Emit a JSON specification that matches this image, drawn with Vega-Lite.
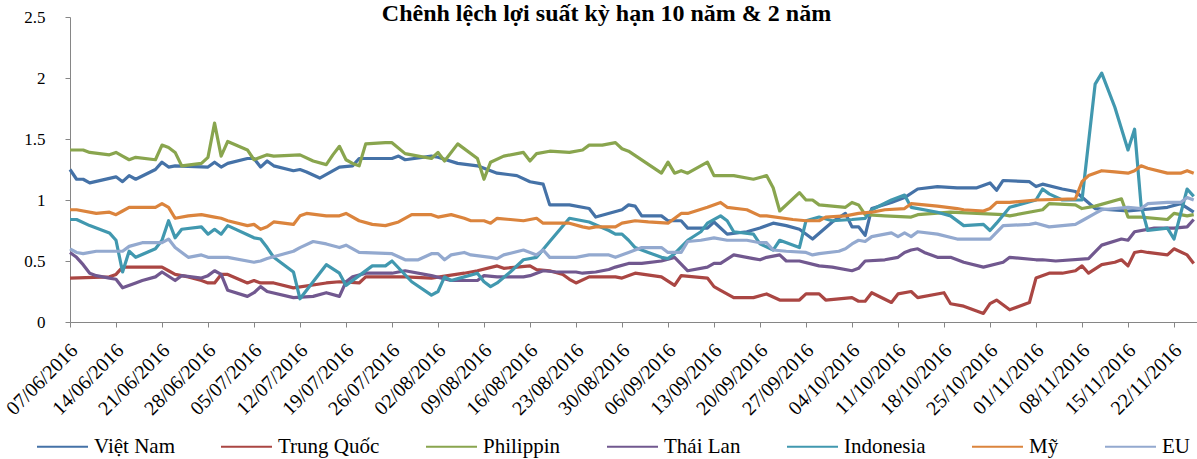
{
"$schema":"https://vega.github.io/schema/vega-lite/v6.json",
"width":1127,"height":305,
"autosize":{"type":"none"},
"padding":{"left":70,"top":17,"right":0,"bottom":137},
"background":"white",
"config":{"view":{"stroke":null}},
"title":{"text":"Chênh lệch lợi suất kỳ hạn 10 năm & 2 năm","font":"Liberation Serif","fontSize":24,"fontWeight":"bold","color":"black","anchor":"middle","frame":"group","baseline":"alphabetic","offset":-37,"dx":-27},
"data":{"values":[
{"date":"2016-06-07","country":"Việt Nam","value":1.25},
{"date":"2016-06-08","country":"Việt Nam","value":1.17},
{"date":"2016-06-09","country":"Việt Nam","value":1.17},
{"date":"2016-06-10","country":"Việt Nam","value":1.14},
{"date":"2016-06-14","country":"Việt Nam","value":1.19},
{"date":"2016-06-15","country":"Việt Nam","value":1.15},
{"date":"2016-06-16","country":"Việt Nam","value":1.20},
{"date":"2016-06-17","country":"Việt Nam","value":1.17},
{"date":"2016-06-20","country":"Việt Nam","value":1.25},
{"date":"2016-06-21","country":"Việt Nam","value":1.31},
{"date":"2016-06-22","country":"Việt Nam","value":1.27},
{"date":"2016-06-23","country":"Việt Nam","value":1.28},
{"date":"2016-06-28","country":"Việt Nam","value":1.27},
{"date":"2016-06-29","country":"Việt Nam","value":1.31},
{"date":"2016-06-30","country":"Việt Nam","value":1.27},
{"date":"2016-07-01","country":"Việt Nam","value":1.30},
{"date":"2016-07-04","country":"Việt Nam","value":1.34},
{"date":"2016-07-05","country":"Việt Nam","value":1.34},
{"date":"2016-07-06","country":"Việt Nam","value":1.27},
{"date":"2016-07-07","country":"Việt Nam","value":1.32},
{"date":"2016-07-08","country":"Việt Nam","value":1.28},
{"date":"2016-07-11","country":"Việt Nam","value":1.24},
{"date":"2016-07-12","country":"Việt Nam","value":1.25},
{"date":"2016-07-13","country":"Việt Nam","value":1.23},
{"date":"2016-07-15","country":"Việt Nam","value":1.18},
{"date":"2016-07-18","country":"Việt Nam","value":1.27},
{"date":"2016-07-20","country":"Việt Nam","value":1.28},
{"date":"2016-07-21","country":"Việt Nam","value":1.34},
{"date":"2016-07-26","country":"Việt Nam","value":1.34},
{"date":"2016-07-27","country":"Việt Nam","value":1.36},
{"date":"2016-07-28","country":"Việt Nam","value":1.33},
{"date":"2016-08-01","country":"Việt Nam","value":1.36},
{"date":"2016-08-02","country":"Việt Nam","value":1.35},
{"date":"2016-08-05","country":"Việt Nam","value":1.30},
{"date":"2016-08-08","country":"Việt Nam","value":1.28},
{"date":"2016-08-11","country":"Việt Nam","value":1.22},
{"date":"2016-08-14","country":"Việt Nam","value":1.20},
{"date":"2016-08-16","country":"Việt Nam","value":1.15},
{"date":"2016-08-18","country":"Việt Nam","value":1.13},
{"date":"2016-08-19","country":"Việt Nam","value":0.96},
{"date":"2016-08-22","country":"Việt Nam","value":0.96},
{"date":"2016-08-25","country":"Việt Nam","value":0.93},
{"date":"2016-08-26","country":"Việt Nam","value":0.86},
{"date":"2016-08-30","country":"Việt Nam","value":0.92},
{"date":"2016-08-31","country":"Việt Nam","value":0.96},
{"date":"2016-09-01","country":"Việt Nam","value":0.95},
{"date":"2016-09-02","country":"Việt Nam","value":0.87},
{"date":"2016-09-05","country":"Việt Nam","value":0.87},
{"date":"2016-09-06","country":"Việt Nam","value":0.83},
{"date":"2016-09-08","country":"Việt Nam","value":0.83},
{"date":"2016-09-09","country":"Việt Nam","value":0.77},
{"date":"2016-09-12","country":"Việt Nam","value":0.77},
{"date":"2016-09-13","country":"Việt Nam","value":0.82},
{"date":"2016-09-15","country":"Việt Nam","value":0.72},
{"date":"2016-09-18","country":"Việt Nam","value":0.74},
{"date":"2016-09-20","country":"Việt Nam","value":0.77},
{"date":"2016-09-22","country":"Việt Nam","value":0.81},
{"date":"2016-09-24","country":"Việt Nam","value":0.79},
{"date":"2016-09-26","country":"Việt Nam","value":0.76},
{"date":"2016-09-28","country":"Việt Nam","value":0.68},
{"date":"2016-10-01","country":"Việt Nam","value":0.82},
{"date":"2016-10-03","country":"Việt Nam","value":0.89},
{"date":"2016-10-04","country":"Việt Nam","value":0.78},
{"date":"2016-10-05","country":"Việt Nam","value":0.78},
{"date":"2016-10-06","country":"Việt Nam","value":0.71},
{"date":"2016-10-07","country":"Việt Nam","value":0.93},
{"date":"2016-10-10","country":"Việt Nam","value":0.98},
{"date":"2016-10-12","country":"Việt Nam","value":1.02},
{"date":"2016-10-14","country":"Việt Nam","value":1.09},
{"date":"2016-10-17","country":"Việt Nam","value":1.11},
{"date":"2016-10-20","country":"Việt Nam","value":1.10},
{"date":"2016-10-23","country":"Việt Nam","value":1.10},
{"date":"2016-10-25","country":"Việt Nam","value":1.14},
{"date":"2016-10-26","country":"Việt Nam","value":1.08},
{"date":"2016-10-27","country":"Việt Nam","value":1.16},
{"date":"2016-10-31","country":"Việt Nam","value":1.15},
{"date":"2016-11-01","country":"Việt Nam","value":1.11},
{"date":"2016-11-02","country":"Việt Nam","value":1.13},
{"date":"2016-11-05","country":"Việt Nam","value":1.09},
{"date":"2016-11-07","country":"Việt Nam","value":1.07},
{"date":"2016-11-10","country":"Việt Nam","value":0.93},
{"date":"2016-11-15","country":"Việt Nam","value":0.91},
{"date":"2016-11-21","country":"Việt Nam","value":0.94},
{"date":"2016-11-23","country":"Việt Nam","value":0.97},
{"date":"2016-11-25","country":"Việt Nam","value":0.90},
{"date":"2016-06-07","country":"Trung Quốc","value":0.36},
{"date":"2016-06-13","country":"Trung Quốc","value":0.37},
{"date":"2016-06-14","country":"Trung Quốc","value":0.39},
{"date":"2016-06-15","country":"Trung Quốc","value":0.45},
{"date":"2016-06-21","country":"Trung Quốc","value":0.45},
{"date":"2016-06-22","country":"Trung Quốc","value":0.42},
{"date":"2016-06-23","country":"Trung Quốc","value":0.39},
{"date":"2016-06-25","country":"Trung Quốc","value":0.37},
{"date":"2016-06-27","country":"Trung Quốc","value":0.34},
{"date":"2016-06-28","country":"Trung Quốc","value":0.32},
{"date":"2016-06-29","country":"Trung Quốc","value":0.32},
{"date":"2016-06-30","country":"Trung Quốc","value":0.39},
{"date":"2016-07-01","country":"Trung Quốc","value":0.39},
{"date":"2016-07-04","country":"Trung Quốc","value":0.32},
{"date":"2016-07-05","country":"Trung Quốc","value":0.34},
{"date":"2016-07-06","country":"Trung Quốc","value":0.32},
{"date":"2016-07-08","country":"Trung Quốc","value":0.32},
{"date":"2016-07-11","country":"Trung Quốc","value":0.28},
{"date":"2016-07-16","country":"Trung Quốc","value":0.32},
{"date":"2016-07-18","country":"Trung Quốc","value":0.33},
{"date":"2016-07-21","country":"Trung Quốc","value":0.32},
{"date":"2016-07-22","country":"Trung Quốc","value":0.37},
{"date":"2016-07-28","country":"Trung Quốc","value":0.37},
{"date":"2016-08-01","country":"Trung Quốc","value":0.36},
{"date":"2016-08-06","country":"Trung Quốc","value":0.40},
{"date":"2016-08-08","country":"Trung Quốc","value":0.42},
{"date":"2016-08-11","country":"Trung Quốc","value":0.46},
{"date":"2016-08-12","country":"Trung Quốc","value":0.44},
{"date":"2016-08-14","country":"Trung Quốc","value":0.45},
{"date":"2016-08-16","country":"Trung Quốc","value":0.46},
{"date":"2016-08-17","country":"Trung Quốc","value":0.43},
{"date":"2016-08-19","country":"Trung Quốc","value":0.42},
{"date":"2016-08-21","country":"Trung Quốc","value":0.39},
{"date":"2016-08-22","country":"Trung Quốc","value":0.35},
{"date":"2016-08-23","country":"Trung Quốc","value":0.32},
{"date":"2016-08-25","country":"Trung Quốc","value":0.37},
{"date":"2016-08-29","country":"Trung Quốc","value":0.37},
{"date":"2016-08-30","country":"Trung Quốc","value":0.36},
{"date":"2016-09-01","country":"Trung Quốc","value":0.40},
{"date":"2016-09-05","country":"Trung Quốc","value":0.37},
{"date":"2016-09-07","country":"Trung Quốc","value":0.30},
{"date":"2016-09-08","country":"Trung Quốc","value":0.38},
{"date":"2016-09-12","country":"Trung Quốc","value":0.36},
{"date":"2016-09-13","country":"Trung Quốc","value":0.29},
{"date":"2016-09-14","country":"Trung Quốc","value":0.26},
{"date":"2016-09-16","country":"Trung Quốc","value":0.20},
{"date":"2016-09-19","country":"Trung Quốc","value":0.20},
{"date":"2016-09-21","country":"Trung Quốc","value":0.23},
{"date":"2016-09-23","country":"Trung Quốc","value":0.18},
{"date":"2016-09-26","country":"Trung Quốc","value":0.18},
{"date":"2016-09-27","country":"Trung Quốc","value":0.23},
{"date":"2016-09-29","country":"Trung Quốc","value":0.23},
{"date":"2016-09-30","country":"Trung Quốc","value":0.18},
{"date":"2016-10-04","country":"Trung Quốc","value":0.20},
{"date":"2016-10-05","country":"Trung Quốc","value":0.17},
{"date":"2016-10-06","country":"Trung Quốc","value":0.17},
{"date":"2016-10-07","country":"Trung Quốc","value":0.24},
{"date":"2016-10-10","country":"Trung Quốc","value":0.16},
{"date":"2016-10-11","country":"Trung Quốc","value":0.23},
{"date":"2016-10-13","country":"Trung Quốc","value":0.25},
{"date":"2016-10-14","country":"Trung Quốc","value":0.20},
{"date":"2016-10-18","country":"Trung Quốc","value":0.24},
{"date":"2016-10-19","country":"Trung Quốc","value":0.15},
{"date":"2016-10-21","country":"Trung Quốc","value":0.13},
{"date":"2016-10-24","country":"Trung Quốc","value":0.07},
{"date":"2016-10-25","country":"Trung Quốc","value":0.15},
{"date":"2016-10-26","country":"Trung Quốc","value":0.18},
{"date":"2016-10-28","country":"Trung Quốc","value":0.10},
{"date":"2016-10-31","country":"Trung Quốc","value":0.16},
{"date":"2016-11-01","country":"Trung Quốc","value":0.36},
{"date":"2016-11-03","country":"Trung Quốc","value":0.40},
{"date":"2016-11-05","country":"Trung Quốc","value":0.40},
{"date":"2016-11-07","country":"Trung Quốc","value":0.42},
{"date":"2016-11-08","country":"Trung Quốc","value":0.46},
{"date":"2016-11-09","country":"Trung Quốc","value":0.40},
{"date":"2016-11-11","country":"Trung Quốc","value":0.47},
{"date":"2016-11-13","country":"Trung Quốc","value":0.49},
{"date":"2016-11-14","country":"Trung Quốc","value":0.51},
{"date":"2016-11-15","country":"Trung Quốc","value":0.46},
{"date":"2016-11-16","country":"Trung Quốc","value":0.57},
{"date":"2016-11-17","country":"Trung Quốc","value":0.58},
{"date":"2016-11-18","country":"Trung Quốc","value":0.57},
{"date":"2016-11-21","country":"Trung Quốc","value":0.55},
{"date":"2016-11-22","country":"Trung Quốc","value":0.60},
{"date":"2016-11-24","country":"Trung Quốc","value":0.55},
{"date":"2016-11-25","country":"Trung Quốc","value":0.48},
{"date":"2016-06-07","country":"Philippin","value":1.41},
{"date":"2016-06-09","country":"Philippin","value":1.41},
{"date":"2016-06-10","country":"Philippin","value":1.39},
{"date":"2016-06-13","country":"Philippin","value":1.37},
{"date":"2016-06-14","country":"Philippin","value":1.39},
{"date":"2016-06-15","country":"Philippin","value":1.36},
{"date":"2016-06-16","country":"Philippin","value":1.33},
{"date":"2016-06-17","country":"Philippin","value":1.35},
{"date":"2016-06-20","country":"Philippin","value":1.33},
{"date":"2016-06-21","country":"Philippin","value":1.45},
{"date":"2016-06-22","country":"Philippin","value":1.43},
{"date":"2016-06-23","country":"Philippin","value":1.39},
{"date":"2016-06-24","country":"Philippin","value":1.28},
{"date":"2016-06-27","country":"Philippin","value":1.30},
{"date":"2016-06-28","country":"Philippin","value":1.35},
{"date":"2016-06-29","country":"Philippin","value":1.63},
{"date":"2016-06-30","country":"Philippin","value":1.36},
{"date":"2016-07-01","country":"Philippin","value":1.48},
{"date":"2016-07-04","country":"Philippin","value":1.41},
{"date":"2016-07-05","country":"Philippin","value":1.33},
{"date":"2016-07-07","country":"Philippin","value":1.37},
{"date":"2016-07-08","country":"Philippin","value":1.36},
{"date":"2016-07-12","country":"Philippin","value":1.37},
{"date":"2016-07-14","country":"Philippin","value":1.32},
{"date":"2016-07-16","country":"Philippin","value":1.29},
{"date":"2016-07-17","country":"Philippin","value":1.37},
{"date":"2016-07-18","country":"Philippin","value":1.44},
{"date":"2016-07-19","country":"Philippin","value":1.33},
{"date":"2016-07-20","country":"Philippin","value":1.30},
{"date":"2016-07-21","country":"Philippin","value":1.28},
{"date":"2016-07-22","country":"Philippin","value":1.46},
{"date":"2016-07-25","country":"Philippin","value":1.47},
{"date":"2016-07-26","country":"Philippin","value":1.47},
{"date":"2016-07-28","country":"Philippin","value":1.38},
{"date":"2016-07-29","country":"Philippin","value":1.37},
{"date":"2016-08-01","country":"Philippin","value":1.34},
{"date":"2016-08-02","country":"Philippin","value":1.39},
{"date":"2016-08-03","country":"Philippin","value":1.32},
{"date":"2016-08-05","country":"Philippin","value":1.46},
{"date":"2016-08-08","country":"Philippin","value":1.34},
{"date":"2016-08-09","country":"Philippin","value":1.17},
{"date":"2016-08-10","country":"Philippin","value":1.31},
{"date":"2016-08-12","country":"Philippin","value":1.36},
{"date":"2016-08-15","country":"Philippin","value":1.39},
{"date":"2016-08-16","country":"Philippin","value":1.32},
{"date":"2016-08-17","country":"Philippin","value":1.38},
{"date":"2016-08-19","country":"Philippin","value":1.40},
{"date":"2016-08-22","country":"Philippin","value":1.39},
{"date":"2016-08-24","country":"Philippin","value":1.41},
{"date":"2016-08-25","country":"Philippin","value":1.45},
{"date":"2016-08-27","country":"Philippin","value":1.45},
{"date":"2016-08-29","country":"Philippin","value":1.47},
{"date":"2016-08-30","country":"Philippin","value":1.42},
{"date":"2016-08-31","country":"Philippin","value":1.40},
{"date":"2016-09-05","country":"Philippin","value":1.22},
{"date":"2016-09-06","country":"Philippin","value":1.31},
{"date":"2016-09-07","country":"Philippin","value":1.22},
{"date":"2016-09-08","country":"Philippin","value":1.24},
{"date":"2016-09-09","country":"Philippin","value":1.22},
{"date":"2016-09-12","country":"Philippin","value":1.31},
{"date":"2016-09-13","country":"Philippin","value":1.20},
{"date":"2016-09-16","country":"Philippin","value":1.20},
{"date":"2016-09-19","country":"Philippin","value":1.17},
{"date":"2016-09-21","country":"Philippin","value":1.20},
{"date":"2016-09-22","country":"Philippin","value":1.10},
{"date":"2016-09-23","country":"Philippin","value":0.91},
{"date":"2016-09-26","country":"Philippin","value":1.06},
{"date":"2016-09-27","country":"Philippin","value":1.00},
{"date":"2016-09-28","country":"Philippin","value":1.00},
{"date":"2016-09-29","country":"Philippin","value":0.96},
{"date":"2016-10-03","country":"Philippin","value":0.94},
{"date":"2016-10-04","country":"Philippin","value":0.98},
{"date":"2016-10-05","country":"Philippin","value":0.96},
{"date":"2016-10-06","country":"Philippin","value":0.88},
{"date":"2016-10-09","country":"Philippin","value":0.87},
{"date":"2016-10-13","country":"Philippin","value":0.86},
{"date":"2016-10-14","country":"Philippin","value":0.88},
{"date":"2016-10-19","country":"Philippin","value":0.90},
{"date":"2016-10-27","country":"Philippin","value":0.88},
{"date":"2016-10-28","country":"Philippin","value":0.87},
{"date":"2016-11-02","country":"Philippin","value":0.92},
{"date":"2016-11-03","country":"Philippin","value":0.97},
{"date":"2016-11-07","country":"Philippin","value":0.96},
{"date":"2016-11-08","country":"Philippin","value":0.93},
{"date":"2016-11-10","country":"Philippin","value":0.95},
{"date":"2016-11-14","country":"Philippin","value":1.01},
{"date":"2016-11-15","country":"Philippin","value":0.86},
{"date":"2016-11-17","country":"Philippin","value":0.86},
{"date":"2016-11-21","country":"Philippin","value":0.84},
{"date":"2016-11-22","country":"Philippin","value":0.89},
{"date":"2016-11-24","country":"Philippin","value":0.87},
{"date":"2016-11-25","country":"Philippin","value":0.88},
{"date":"2016-06-07","country":"Thái Lan","value":0.57},
{"date":"2016-06-08","country":"Thái Lan","value":0.53},
{"date":"2016-06-09","country":"Thái Lan","value":0.47},
{"date":"2016-06-10","country":"Thái Lan","value":0.40},
{"date":"2016-06-11","country":"Thái Lan","value":0.38},
{"date":"2016-06-13","country":"Thái Lan","value":0.36},
{"date":"2016-06-14","country":"Thái Lan","value":0.35},
{"date":"2016-06-15","country":"Thái Lan","value":0.28},
{"date":"2016-06-17","country":"Thái Lan","value":0.32},
{"date":"2016-06-18","country":"Thái Lan","value":0.34},
{"date":"2016-06-20","country":"Thái Lan","value":0.37},
{"date":"2016-06-21","country":"Thái Lan","value":0.41},
{"date":"2016-06-23","country":"Thái Lan","value":0.34},
{"date":"2016-06-24","country":"Thái Lan","value":0.38},
{"date":"2016-06-27","country":"Thái Lan","value":0.36},
{"date":"2016-06-28","country":"Thái Lan","value":0.38},
{"date":"2016-06-29","country":"Thái Lan","value":0.42},
{"date":"2016-06-30","country":"Thái Lan","value":0.39},
{"date":"2016-07-01","country":"Thái Lan","value":0.26},
{"date":"2016-07-04","country":"Thái Lan","value":0.21},
{"date":"2016-07-05","country":"Thái Lan","value":0.24},
{"date":"2016-07-06","country":"Thái Lan","value":0.29},
{"date":"2016-07-07","country":"Thái Lan","value":0.25},
{"date":"2016-07-11","country":"Thái Lan","value":0.20},
{"date":"2016-07-14","country":"Thái Lan","value":0.21},
{"date":"2016-07-16","country":"Thái Lan","value":0.24},
{"date":"2016-07-18","country":"Thái Lan","value":0.21},
{"date":"2016-07-19","country":"Thái Lan","value":0.33},
{"date":"2016-07-20","country":"Thái Lan","value":0.37},
{"date":"2016-07-22","country":"Thái Lan","value":0.40},
{"date":"2016-07-26","country":"Thái Lan","value":0.40},
{"date":"2016-07-28","country":"Thái Lan","value":0.42},
{"date":"2016-08-01","country":"Thái Lan","value":0.38},
{"date":"2016-08-04","country":"Thái Lan","value":0.34},
{"date":"2016-08-08","country":"Thái Lan","value":0.34},
{"date":"2016-08-09","country":"Thái Lan","value":0.38},
{"date":"2016-08-11","country":"Thái Lan","value":0.37},
{"date":"2016-08-15","country":"Thái Lan","value":0.37},
{"date":"2016-08-16","country":"Thái Lan","value":0.38},
{"date":"2016-08-18","country":"Thái Lan","value":0.42},
{"date":"2016-08-20","country":"Thái Lan","value":0.41},
{"date":"2016-08-23","country":"Thái Lan","value":0.41},
{"date":"2016-08-24","country":"Thái Lan","value":0.40},
{"date":"2016-08-26","country":"Thái Lan","value":0.41},
{"date":"2016-08-28","country":"Thái Lan","value":0.43},
{"date":"2016-08-29","country":"Thái Lan","value":0.45},
{"date":"2016-08-31","country":"Thái Lan","value":0.48},
{"date":"2016-09-02","country":"Thái Lan","value":0.48},
{"date":"2016-09-05","country":"Thái Lan","value":0.50},
{"date":"2016-09-07","country":"Thái Lan","value":0.53},
{"date":"2016-09-09","country":"Thái Lan","value":0.42},
{"date":"2016-09-12","country":"Thái Lan","value":0.45},
{"date":"2016-09-13","country":"Thái Lan","value":0.48},
{"date":"2016-09-14","country":"Thái Lan","value":0.48},
{"date":"2016-09-16","country":"Thái Lan","value":0.55},
{"date":"2016-09-19","country":"Thái Lan","value":0.52},
{"date":"2016-09-20","country":"Thái Lan","value":0.51},
{"date":"2016-09-21","country":"Thái Lan","value":0.53},
{"date":"2016-09-23","country":"Thái Lan","value":0.55},
{"date":"2016-09-24","country":"Thái Lan","value":0.50},
{"date":"2016-09-26","country":"Thái Lan","value":0.50},
{"date":"2016-09-29","country":"Thái Lan","value":0.46},
{"date":"2016-10-01","country":"Thái Lan","value":0.45},
{"date":"2016-10-04","country":"Thái Lan","value":0.42},
{"date":"2016-10-05","country":"Thái Lan","value":0.44},
{"date":"2016-10-06","country":"Thái Lan","value":0.50},
{"date":"2016-10-09","country":"Thái Lan","value":0.51},
{"date":"2016-10-11","country":"Thái Lan","value":0.53},
{"date":"2016-10-12","country":"Thái Lan","value":0.57},
{"date":"2016-10-13","country":"Thái Lan","value":0.59},
{"date":"2016-10-14","country":"Thái Lan","value":0.60},
{"date":"2016-10-15","country":"Thái Lan","value":0.57},
{"date":"2016-10-17","country":"Thái Lan","value":0.53},
{"date":"2016-10-19","country":"Thái Lan","value":0.53},
{"date":"2016-10-21","country":"Thái Lan","value":0.49},
{"date":"2016-10-24","country":"Thái Lan","value":0.45},
{"date":"2016-10-27","country":"Thái Lan","value":0.49},
{"date":"2016-10-28","country":"Thái Lan","value":0.53},
{"date":"2016-11-01","country":"Thái Lan","value":0.51},
{"date":"2016-11-02","country":"Thái Lan","value":0.51},
{"date":"2016-11-04","country":"Thái Lan","value":0.50},
{"date":"2016-11-09","country":"Thái Lan","value":0.52},
{"date":"2016-11-11","country":"Thái Lan","value":0.63},
{"date":"2016-11-14","country":"Thái Lan","value":0.68},
{"date":"2016-11-15","country":"Thái Lan","value":0.67},
{"date":"2016-11-16","country":"Thái Lan","value":0.74},
{"date":"2016-11-19","country":"Thái Lan","value":0.77},
{"date":"2016-11-22","country":"Thái Lan","value":0.77},
{"date":"2016-11-24","country":"Thái Lan","value":0.78},
{"date":"2016-11-25","country":"Thái Lan","value":0.84},
{"date":"2016-06-07","country":"Indonesia","value":0.84},
{"date":"2016-06-08","country":"Indonesia","value":0.84},
{"date":"2016-06-10","country":"Indonesia","value":0.79},
{"date":"2016-06-13","country":"Indonesia","value":0.73},
{"date":"2016-06-14","country":"Indonesia","value":0.67},
{"date":"2016-06-15","country":"Indonesia","value":0.41},
{"date":"2016-06-16","country":"Indonesia","value":0.58},
{"date":"2016-06-17","country":"Indonesia","value":0.53},
{"date":"2016-06-20","country":"Indonesia","value":0.60},
{"date":"2016-06-21","country":"Indonesia","value":0.67},
{"date":"2016-06-22","country":"Indonesia","value":0.83},
{"date":"2016-06-23","country":"Indonesia","value":0.69},
{"date":"2016-06-24","country":"Indonesia","value":0.76},
{"date":"2016-06-27","country":"Indonesia","value":0.78},
{"date":"2016-06-28","country":"Indonesia","value":0.72},
{"date":"2016-06-29","country":"Indonesia","value":0.76},
{"date":"2016-06-30","country":"Indonesia","value":0.72},
{"date":"2016-07-01","country":"Indonesia","value":0.79},
{"date":"2016-07-05","country":"Indonesia","value":0.69},
{"date":"2016-07-06","country":"Indonesia","value":0.68},
{"date":"2016-07-07","country":"Indonesia","value":0.61},
{"date":"2016-07-08","country":"Indonesia","value":0.53},
{"date":"2016-07-11","country":"Indonesia","value":0.41},
{"date":"2016-07-12","country":"Indonesia","value":0.19},
{"date":"2016-07-16","country":"Indonesia","value":0.47},
{"date":"2016-07-18","country":"Indonesia","value":0.40},
{"date":"2016-07-19","country":"Indonesia","value":0.30},
{"date":"2016-07-23","country":"Indonesia","value":0.46},
{"date":"2016-07-25","country":"Indonesia","value":0.46},
{"date":"2016-07-26","country":"Indonesia","value":0.50},
{"date":"2016-07-29","country":"Indonesia","value":0.33},
{"date":"2016-08-01","country":"Indonesia","value":0.22},
{"date":"2016-08-02","country":"Indonesia","value":0.25},
{"date":"2016-08-03","country":"Indonesia","value":0.37},
{"date":"2016-08-04","country":"Indonesia","value":0.34},
{"date":"2016-08-06","country":"Indonesia","value":0.37},
{"date":"2016-08-08","country":"Indonesia","value":0.40},
{"date":"2016-08-09","country":"Indonesia","value":0.33},
{"date":"2016-08-10","country":"Indonesia","value":0.29},
{"date":"2016-08-11","country":"Indonesia","value":0.32},
{"date":"2016-08-13","country":"Indonesia","value":0.41},
{"date":"2016-08-15","country":"Indonesia","value":0.51},
{"date":"2016-08-17","country":"Indonesia","value":0.53},
{"date":"2016-08-19","country":"Indonesia","value":0.66},
{"date":"2016-08-22","country":"Indonesia","value":0.85},
{"date":"2016-08-25","country":"Indonesia","value":0.82},
{"date":"2016-08-28","country":"Indonesia","value":0.75},
{"date":"2016-08-29","country":"Indonesia","value":0.72},
{"date":"2016-08-30","country":"Indonesia","value":0.72},
{"date":"2016-08-31","country":"Indonesia","value":0.67},
{"date":"2016-09-01","country":"Indonesia","value":0.61},
{"date":"2016-09-03","country":"Indonesia","value":0.57},
{"date":"2016-09-05","country":"Indonesia","value":0.53},
{"date":"2016-09-06","country":"Indonesia","value":0.52},
{"date":"2016-09-07","country":"Indonesia","value":0.56},
{"date":"2016-09-09","country":"Indonesia","value":0.67},
{"date":"2016-09-11","country":"Indonesia","value":0.74},
{"date":"2016-09-12","country":"Indonesia","value":0.81},
{"date":"2016-09-14","country":"Indonesia","value":0.87},
{"date":"2016-09-15","country":"Indonesia","value":0.83},
{"date":"2016-09-16","country":"Indonesia","value":0.74},
{"date":"2016-09-19","country":"Indonesia","value":0.72},
{"date":"2016-09-20","country":"Indonesia","value":0.64},
{"date":"2016-09-22","country":"Indonesia","value":0.59},
{"date":"2016-09-23","country":"Indonesia","value":0.67},
{"date":"2016-09-26","country":"Indonesia","value":0.61},
{"date":"2016-09-27","country":"Indonesia","value":0.83},
{"date":"2016-09-29","country":"Indonesia","value":0.86},
{"date":"2016-10-01","country":"Indonesia","value":0.83},
{"date":"2016-10-04","country":"Indonesia","value":0.84},
{"date":"2016-10-06","country":"Indonesia","value":0.85},
{"date":"2016-10-07","country":"Indonesia","value":0.92},
{"date":"2016-10-10","country":"Indonesia","value":1.00},
{"date":"2016-10-12","country":"Indonesia","value":1.04},
{"date":"2016-10-13","country":"Indonesia","value":0.94},
{"date":"2016-10-17","country":"Indonesia","value":0.90},
{"date":"2016-10-19","country":"Indonesia","value":0.87},
{"date":"2016-10-21","country":"Indonesia","value":0.79},
{"date":"2016-10-24","country":"Indonesia","value":0.80},
{"date":"2016-10-25","country":"Indonesia","value":0.75},
{"date":"2016-10-26","country":"Indonesia","value":0.81},
{"date":"2016-10-28","country":"Indonesia","value":0.94},
{"date":"2016-11-01","country":"Indonesia","value":1.00},
{"date":"2016-11-02","country":"Indonesia","value":1.09},
{"date":"2016-11-03","country":"Indonesia","value":1.05},
{"date":"2016-11-05","country":"Indonesia","value":1.00},
{"date":"2016-11-08","country":"Indonesia","value":1.00},
{"date":"2016-11-10","country":"Indonesia","value":1.95},
{"date":"2016-11-11","country":"Indonesia","value":2.04},
{"date":"2016-11-13","country":"Indonesia","value":1.76},
{"date":"2016-11-15","country":"Indonesia","value":1.41},
{"date":"2016-11-16","country":"Indonesia","value":1.58},
{"date":"2016-11-17","country":"Indonesia","value":0.95},
{"date":"2016-11-18","country":"Indonesia","value":0.75},
{"date":"2016-11-21","country":"Indonesia","value":0.77},
{"date":"2016-11-22","country":"Indonesia","value":0.68},
{"date":"2016-11-24","country":"Indonesia","value":1.09},
{"date":"2016-11-25","country":"Indonesia","value":1.03},
{"date":"2016-06-07","country":"Mỹ","value":0.92},
{"date":"2016-06-08","country":"Mỹ","value":0.92},
{"date":"2016-06-11","country":"Mỹ","value":0.89},
{"date":"2016-06-13","country":"Mỹ","value":0.90},
{"date":"2016-06-14","country":"Mỹ","value":0.88},
{"date":"2016-06-15","country":"Mỹ","value":0.91},
{"date":"2016-06-16","country":"Mỹ","value":0.94},
{"date":"2016-06-20","country":"Mỹ","value":0.94},
{"date":"2016-06-21","country":"Mỹ","value":0.97},
{"date":"2016-06-22","country":"Mỹ","value":0.94},
{"date":"2016-06-23","country":"Mỹ","value":0.85},
{"date":"2016-06-25","country":"Mỹ","value":0.87},
{"date":"2016-06-27","country":"Mỹ","value":0.88},
{"date":"2016-06-29","country":"Mỹ","value":0.86},
{"date":"2016-06-30","country":"Mỹ","value":0.85},
{"date":"2016-07-01","country":"Mỹ","value":0.83},
{"date":"2016-07-04","country":"Mỹ","value":0.79},
{"date":"2016-07-05","country":"Mỹ","value":0.80},
{"date":"2016-07-06","country":"Mỹ","value":0.76},
{"date":"2016-07-07","country":"Mỹ","value":0.78},
{"date":"2016-07-08","country":"Mỹ","value":0.82},
{"date":"2016-07-11","country":"Mỹ","value":0.80},
{"date":"2016-07-12","country":"Mỹ","value":0.87},
{"date":"2016-07-13","country":"Mỹ","value":0.89},
{"date":"2016-07-16","country":"Mỹ","value":0.87},
{"date":"2016-07-18","country":"Mỹ","value":0.87},
{"date":"2016-07-19","country":"Mỹ","value":0.89},
{"date":"2016-07-21","country":"Mỹ","value":0.83},
{"date":"2016-07-23","country":"Mỹ","value":0.80},
{"date":"2016-07-25","country":"Mỹ","value":0.79},
{"date":"2016-07-27","country":"Mỹ","value":0.82},
{"date":"2016-07-29","country":"Mỹ","value":0.88},
{"date":"2016-08-01","country":"Mỹ","value":0.88},
{"date":"2016-08-02","country":"Mỹ","value":0.86},
{"date":"2016-08-04","country":"Mỹ","value":0.88},
{"date":"2016-08-06","country":"Mỹ","value":0.85},
{"date":"2016-08-07","country":"Mỹ","value":0.83},
{"date":"2016-08-09","country":"Mỹ","value":0.83},
{"date":"2016-08-10","country":"Mỹ","value":0.81},
{"date":"2016-08-11","country":"Mỹ","value":0.85},
{"date":"2016-08-13","country":"Mỹ","value":0.84},
{"date":"2016-08-15","country":"Mỹ","value":0.83},
{"date":"2016-08-17","country":"Mỹ","value":0.85},
{"date":"2016-08-18","country":"Mỹ","value":0.81},
{"date":"2016-08-22","country":"Mỹ","value":0.81},
{"date":"2016-08-24","country":"Mỹ","value":0.78},
{"date":"2016-08-25","country":"Mỹ","value":0.77},
{"date":"2016-08-26","country":"Mỹ","value":0.78},
{"date":"2016-08-29","country":"Mỹ","value":0.78},
{"date":"2016-08-30","country":"Mỹ","value":0.81},
{"date":"2016-09-01","country":"Mỹ","value":0.83},
{"date":"2016-09-03","country":"Mỹ","value":0.82},
{"date":"2016-09-06","country":"Mỹ","value":0.81},
{"date":"2016-09-08","country":"Mỹ","value":0.89},
{"date":"2016-09-09","country":"Mỹ","value":0.89},
{"date":"2016-09-12","country":"Mỹ","value":0.94},
{"date":"2016-09-14","country":"Mỹ","value":0.98},
{"date":"2016-09-15","country":"Mỹ","value":0.94},
{"date":"2016-09-18","country":"Mỹ","value":0.92},
{"date":"2016-09-20","country":"Mỹ","value":0.87},
{"date":"2016-09-21","country":"Mỹ","value":0.87},
{"date":"2016-09-25","country":"Mỹ","value":0.84},
{"date":"2016-09-27","country":"Mỹ","value":0.83},
{"date":"2016-09-29","country":"Mỹ","value":0.83},
{"date":"2016-09-30","country":"Mỹ","value":0.86},
{"date":"2016-10-03","country":"Mỹ","value":0.87},
{"date":"2016-10-05","country":"Mỹ","value":0.89},
{"date":"2016-10-07","country":"Mỹ","value":0.90},
{"date":"2016-10-09","country":"Mỹ","value":0.92},
{"date":"2016-10-12","country":"Mỹ","value":0.93},
{"date":"2016-10-13","country":"Mỹ","value":0.97},
{"date":"2016-10-15","country":"Mỹ","value":0.96},
{"date":"2016-10-17","country":"Mỹ","value":0.95},
{"date":"2016-10-20","country":"Mỹ","value":0.93},
{"date":"2016-10-21","country":"Mỹ","value":0.92},
{"date":"2016-10-24","country":"Mỹ","value":0.91},
{"date":"2016-10-25","country":"Mỹ","value":0.93},
{"date":"2016-10-26","country":"Mỹ","value":0.98},
{"date":"2016-10-28","country":"Mỹ","value":0.98},
{"date":"2016-11-01","country":"Mỹ","value":1.00},
{"date":"2016-11-07","country":"Mỹ","value":1.01},
{"date":"2016-11-08","country":"Mỹ","value":1.15},
{"date":"2016-11-09","country":"Mỹ","value":1.20},
{"date":"2016-11-11","country":"Mỹ","value":1.24},
{"date":"2016-11-13","country":"Mỹ","value":1.23},
{"date":"2016-11-15","country":"Mỹ","value":1.22},
{"date":"2016-11-16","country":"Mỹ","value":1.24},
{"date":"2016-11-17","country":"Mỹ","value":1.28},
{"date":"2016-11-18","country":"Mỹ","value":1.26},
{"date":"2016-11-21","country":"Mỹ","value":1.22},
{"date":"2016-11-23","country":"Mỹ","value":1.22},
{"date":"2016-11-24","country":"Mỹ","value":1.24},
{"date":"2016-11-25","country":"Mỹ","value":1.22},
{"date":"2016-06-07","country":"EU","value":0.60},
{"date":"2016-06-08","country":"EU","value":0.57},
{"date":"2016-06-09","country":"EU","value":0.56},
{"date":"2016-06-11","country":"EU","value":0.58},
{"date":"2016-06-15","country":"EU","value":0.58},
{"date":"2016-06-16","country":"EU","value":0.62},
{"date":"2016-06-18","country":"EU","value":0.65},
{"date":"2016-06-21","country":"EU","value":0.65},
{"date":"2016-06-22","country":"EU","value":0.68},
{"date":"2016-06-23","country":"EU","value":0.61},
{"date":"2016-06-25","country":"EU","value":0.53},
{"date":"2016-06-27","country":"EU","value":0.55},
{"date":"2016-06-28","country":"EU","value":0.53},
{"date":"2016-07-01","country":"EU","value":0.53},
{"date":"2016-07-05","country":"EU","value":0.49},
{"date":"2016-07-06","country":"EU","value":0.50},
{"date":"2016-07-07","country":"EU","value":0.52},
{"date":"2016-07-11","country":"EU","value":0.58},
{"date":"2016-07-12","country":"EU","value":0.61},
{"date":"2016-07-14","country":"EU","value":0.66},
{"date":"2016-07-16","country":"EU","value":0.64},
{"date":"2016-07-18","country":"EU","value":0.61},
{"date":"2016-07-19","country":"EU","value":0.63},
{"date":"2016-07-21","country":"EU","value":0.57},
{"date":"2016-07-26","country":"EU","value":0.56},
{"date":"2016-07-28","country":"EU","value":0.51},
{"date":"2016-07-30","country":"EU","value":0.51},
{"date":"2016-08-01","country":"EU","value":0.56},
{"date":"2016-08-02","country":"EU","value":0.56},
{"date":"2016-08-03","country":"EU","value":0.51},
{"date":"2016-08-04","country":"EU","value":0.55},
{"date":"2016-08-06","country":"EU","value":0.57},
{"date":"2016-08-07","country":"EU","value":0.55},
{"date":"2016-08-10","country":"EU","value":0.53},
{"date":"2016-08-11","country":"EU","value":0.52},
{"date":"2016-08-12","country":"EU","value":0.55},
{"date":"2016-08-15","country":"EU","value":0.59},
{"date":"2016-08-17","country":"EU","value":0.55},
{"date":"2016-08-18","country":"EU","value":0.59},
{"date":"2016-08-19","country":"EU","value":0.53},
{"date":"2016-08-23","country":"EU","value":0.53},
{"date":"2016-08-25","country":"EU","value":0.55},
{"date":"2016-08-28","country":"EU","value":0.55},
{"date":"2016-08-29","country":"EU","value":0.53},
{"date":"2016-08-31","country":"EU","value":0.57},
{"date":"2016-09-02","country":"EU","value":0.61},
{"date":"2016-09-05","country":"EU","value":0.61},
{"date":"2016-09-06","country":"EU","value":0.57},
{"date":"2016-09-08","country":"EU","value":0.57},
{"date":"2016-09-09","country":"EU","value":0.66},
{"date":"2016-09-11","country":"EU","value":0.67},
{"date":"2016-09-13","country":"EU","value":0.69},
{"date":"2016-09-15","country":"EU","value":0.67},
{"date":"2016-09-18","country":"EU","value":0.67},
{"date":"2016-09-20","country":"EU","value":0.65},
{"date":"2016-09-21","country":"EU","value":0.65},
{"date":"2016-09-22","country":"EU","value":0.59},
{"date":"2016-09-24","country":"EU","value":0.58},
{"date":"2016-09-27","country":"EU","value":0.57},
{"date":"2016-09-28","country":"EU","value":0.55},
{"date":"2016-09-29","country":"EU","value":0.56},
{"date":"2016-10-02","country":"EU","value":0.58},
{"date":"2016-10-03","country":"EU","value":0.60},
{"date":"2016-10-04","country":"EU","value":0.64},
{"date":"2016-10-05","country":"EU","value":0.67},
{"date":"2016-10-06","country":"EU","value":0.66},
{"date":"2016-10-07","country":"EU","value":0.70},
{"date":"2016-10-09","country":"EU","value":0.72},
{"date":"2016-10-10","country":"EU","value":0.73},
{"date":"2016-10-11","country":"EU","value":0.70},
{"date":"2016-10-12","country":"EU","value":0.73},
{"date":"2016-10-13","country":"EU","value":0.70},
{"date":"2016-10-14","country":"EU","value":0.74},
{"date":"2016-10-17","country":"EU","value":0.72},
{"date":"2016-10-20","country":"EU","value":0.68},
{"date":"2016-10-25","country":"EU","value":0.68},
{"date":"2016-10-27","country":"EU","value":0.79},
{"date":"2016-10-31","country":"EU","value":0.80},
{"date":"2016-11-01","country":"EU","value":0.81},
{"date":"2016-11-03","country":"EU","value":0.78},
{"date":"2016-11-07","country":"EU","value":0.80},
{"date":"2016-11-08","country":"EU","value":0.83},
{"date":"2016-11-10","country":"EU","value":0.89},
{"date":"2016-11-11","country":"EU","value":0.92},
{"date":"2016-11-15","country":"EU","value":0.94},
{"date":"2016-11-17","country":"EU","value":0.93},
{"date":"2016-11-18","country":"EU","value":0.97},
{"date":"2016-11-21","country":"EU","value":0.98},
{"date":"2016-11-23","country":"EU","value":0.98},
{"date":"2016-11-24","country":"EU","value":1.02},
{"date":"2016-11-25","country":"EU","value":1.00}
]},
"mark":{"type":"line","strokeWidth":3.2,"strokeJoin":"round"},
"encoding":{
"x":{"field":"date","type":"temporal","title":null,
"scale":{"type":"utc","nice":false,"domain":[{"year":2016,"month":6,"date":7,"utc":true},{"year":2016,"month":11,"date":25,"hours":12,"utc":true}]},
"axis":{"values":[
{"year":2016,"month":6,"date":7,"utc":true},{"year":2016,"month":6,"date":14,"utc":true},{"year":2016,"month":6,"date":21,"utc":true},{"year":2016,"month":6,"date":28,"utc":true},
{"year":2016,"month":7,"date":5,"utc":true},{"year":2016,"month":7,"date":12,"utc":true},{"year":2016,"month":7,"date":19,"utc":true},{"year":2016,"month":7,"date":26,"utc":true},
{"year":2016,"month":8,"date":2,"utc":true},{"year":2016,"month":8,"date":9,"utc":true},{"year":2016,"month":8,"date":16,"utc":true},{"year":2016,"month":8,"date":23,"utc":true},{"year":2016,"month":8,"date":30,"utc":true},
{"year":2016,"month":9,"date":6,"utc":true},{"year":2016,"month":9,"date":13,"utc":true},{"year":2016,"month":9,"date":20,"utc":true},{"year":2016,"month":9,"date":27,"utc":true},
{"year":2016,"month":10,"date":4,"utc":true},{"year":2016,"month":10,"date":11,"utc":true},{"year":2016,"month":10,"date":18,"utc":true},{"year":2016,"month":10,"date":25,"utc":true},
{"year":2016,"month":11,"date":1,"utc":true},{"year":2016,"month":11,"date":8,"utc":true},{"year":2016,"month":11,"date":15,"utc":true},{"year":2016,"month":11,"date":22,"utc":true}],
"format":"%d/%m/%Y","labelAngle":-45,"labelAlign":"right","labelBaseline":"middle","labelFont":"Liberation Serif","labelFontSize":20,"labelColor":"black","labelPadding":20,"labelOffset":4,"labelFlush":false,"labelOverlap":false,"labelBound":false,"tickSize":5,"tickColor":"#868686","domainColor":"#868686","grid":false}},
"y":{"field":"value","type":"quantitative","title":null,
"scale":{"domain":[0,2.5],"nice":false},
"axis":{"values":[0,0.5,1,1.5,2,2.5],"format":"~g","labelFont":"Liberation Serif","labelFontSize":17,"labelColor":"black","labelPadding":20,"tickSize":5,"tickColor":"#868686","domainColor":"#868686","grid":false}},
"color":{"field":"country","type":"nominal",
"scale":{"domain":["Việt Nam","Trung Quốc","Philippin","Thái Lan","Indonesia","Mỹ","EU"],"range":["#4572A7","#AA4643","#89A54E","#71588F","#4198AF","#DB843D","#93A9CF"]},
"legend":{"title":null,"orient":"none","direction":"horizontal","legendX":-34,"legendY":403,"symbolType":"stroke","symbolSize":2601,"symbolStrokeWidth":2,"labelFont":"Liberation Serif","labelFontSize":21,"labelColor":"black","labelOffset":5,"columnPadding":42,"padding":0}}
}
}
